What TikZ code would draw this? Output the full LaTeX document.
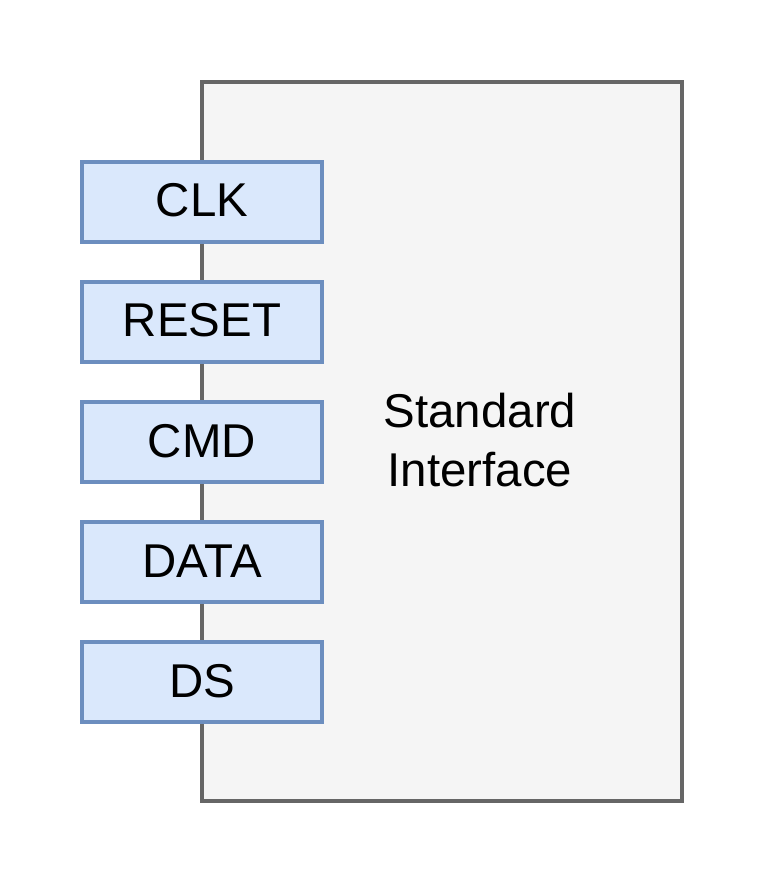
\documentclass[tikz,border=0pt]{standalone}
\usepackage{fontspec}
\setmainfont{Liberation Sans}
\usetikzlibrary{positioning}
\definecolor{ifaceFill}{HTML}{F5F5F5}
\definecolor{ifaceLine}{HTML}{666666}
\definecolor{pinFill}{HTML}{DAE8FC}
\definecolor{pinLine}{HTML}{6C8EBF}
\tikzset{
  iface/.style={
    shape = rectangle,
    draw = ifaceLine,
    fill = ifaceFill,
    line width = 1.8pt,
    minimum width = 9.6cm,
    minimum height = 14.38cm,
    inner sep = 0pt
  },
  pin/.style={
    shape = rectangle,
    draw = pinLine,
    fill = pinFill,
    line width = 1.8pt,
    minimum width = 4.8cm,
    minimum height = 1.6cm,
    inner sep = 0pt,
    text height = 0.68cm,
    text depth = 0.08cm,
    font = \fontsize{27}{32}\selectfont
  },
  caption/.style={
    align = center,
    font = \fontsize{27}{34}\selectfont
  }
}

\begin{document}
\begin{tikzpicture}[x=0.02cm, y=-0.02cm]
    \useasboundingbox (0,0) rectangle (768,888);
    % the interface block
    \node[iface] (block) at (442,441.5) {};
    \node[caption] (name) at (480,440) {Standard\\Interface};

    % the signal pins
    \node[pin] (clk) at (202,202) {CLK};
    \node[pin] (reset) at (202,322) {RESET};
    \node[pin] (cmd) at (202,442) {CMD};
    \node[pin] (data) at (202,562) {DATA};
    \node[pin] (ds) at (202,682) {DS};
\end{tikzpicture}
\end{document}
